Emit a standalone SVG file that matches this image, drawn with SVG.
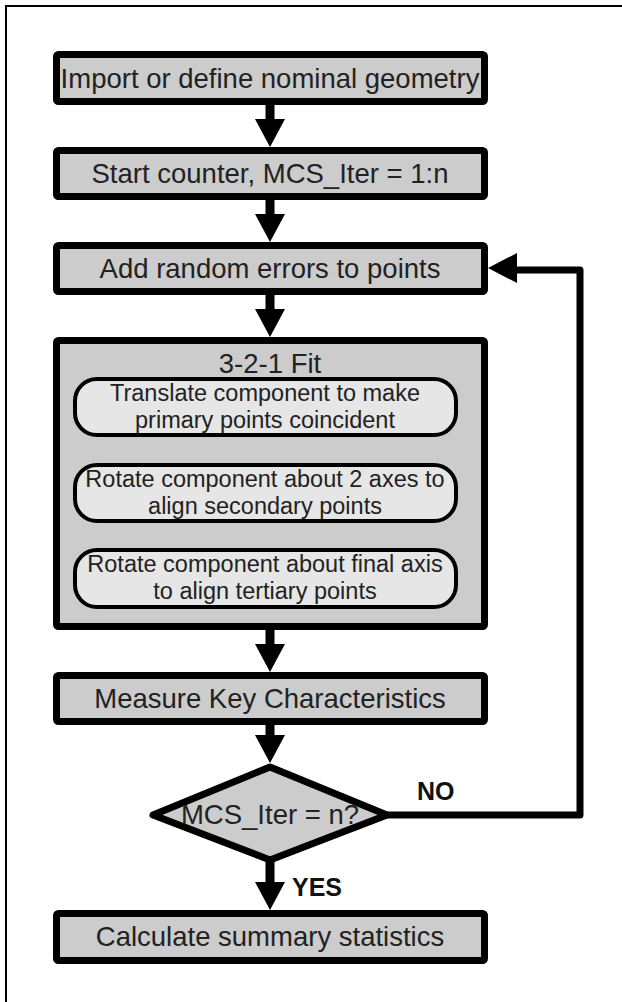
<svg xmlns="http://www.w3.org/2000/svg" width="622" height="1002" viewBox="0 0 622 1002">
<defs>
<style>
.box{fill:#cccccc;stroke:#000;stroke-width:7;stroke-linejoin:round}
.sub{fill:#e6e6e6;stroke:#000;stroke-width:4}
.t{font-family:"Liberation Sans",Arial,sans-serif;font-size:27.5px;fill:#222;text-anchor:middle}
.ts{font-family:"Liberation Sans",Arial,sans-serif;font-size:23.5px;fill:#222;text-anchor:middle}
.lbl{font-family:"Liberation Sans",Arial,sans-serif;font-size:25px;font-weight:bold;fill:#111}
.shaft{stroke:#000;stroke-width:9;fill:none}
.thin{stroke:#000;stroke-width:3;fill:none}
.head{fill:#000}
.loop{stroke:#000;stroke-width:7;fill:none;stroke-linejoin:round}
</style>
</defs>
<path d="M6,1002 V6 H622" fill="none" stroke="#000" stroke-width="2"/>
<g id="connectors">
<line class="shaft" x1="270" y1="105" x2="270" y2="121"/><polygon class="head" points="255,119 285,119 270,147"/>
<line class="shaft" x1="270" y1="200" x2="270" y2="216"/><polygon class="head" points="255,214 285,214 270,242"/>
<line class="shaft" x1="270" y1="295" x2="270" y2="311"/><polygon class="head" points="255,309 285,309 270,337"/>
<line class="thin" x1="266" y1="437" x2="266" y2="449"/><polygon class="head" points="257,447 275,447 266,463"/>
<line class="thin" x1="266" y1="523" x2="266" y2="534"/><polygon class="head" points="257,532 275,532 266,548"/>
<line class="shaft" x1="270" y1="630" x2="270" y2="646"/><polygon class="head" points="255,644 285,644 270,672"/>
<line class="shaft" x1="270" y1="725" x2="270" y2="737"/><polygon class="head" points="255,735 285,735 270,763"/>
<line class="shaft" x1="270" y1="860" x2="270" y2="884"/><polygon class="head" points="255,882 285,882 270,910"/>
<polyline class="loop" points="387,815 580,815 580,270 514,270"/><polygon class="head" points="517,253 517,283 488,268"/>
<text class="lbl" x="417" y="800">NO</text>
<text class="lbl" x="292" y="896">YES</text>
</g>
<g id="n1"><rect class="box" x="56.5" y="54.5" width="428" height="47" rx="2"/><text class="t" x="270" y="88">Import or define nominal geometry</text></g>
<g id="n2"><rect class="box" x="56.5" y="150.5" width="428" height="46" rx="2"/><text class="t" x="270" y="183">Start counter, MCS_Iter = 1:n</text></g>
<g id="n3"><rect class="box" x="56.5" y="245.5" width="428" height="46" rx="2"/><text class="t" x="270" y="278">Add random errors to points</text></g>
<g id="n4"><rect class="box" x="56.5" y="340.5" width="428" height="286" rx="2"/><text class="t" x="270" y="373">3-2-1 Fit</text></g>
<g id="n4a"><rect class="sub" x="75" y="379" width="381" height="56" rx="22"/><text class="ts" x="265" y="401">Translate component to make</text><text class="ts" x="265" y="428">primary points coincident</text></g>
<g id="n4b"><rect class="sub" x="75" y="465" width="381" height="56" rx="22"/><text class="ts" x="265" y="487">Rotate component about 2 axes to</text><text class="ts" x="265" y="514">align secondary points</text></g>
<g id="n4c"><rect class="sub" x="75" y="550" width="381" height="57" rx="22"/><text class="ts" x="265" y="572">Rotate component about final axis</text><text class="ts" x="265" y="599">to align tertiary points</text></g>
<g id="n5"><rect class="box" x="56.5" y="675.5" width="428" height="46" rx="2"/><text class="t" x="270" y="708">Measure Key Characteristics</text></g>
<g id="n6"><polygon class="box" points="270,767 387,815 270,860 153,815"/><text class="t" x="270" y="824">MCS_Iter = n?</text></g>
<g id="n7"><rect class="box" x="56.5" y="913.5" width="428" height="47" rx="2"/><text class="t" x="270" y="946">Calculate summary statistics</text></g>
</svg>
